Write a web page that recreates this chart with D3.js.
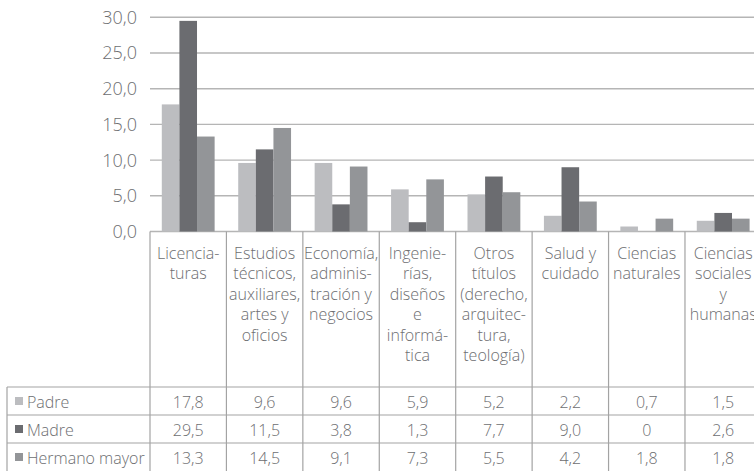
<!DOCTYPE html>
<html>
<head>
<meta charset="utf-8">
<script src="https://cdn.jsdelivr.net/npm/d3@7"></script>
<style>
  html, body { margin: 0; padding: 0; background: #fff; }
  svg { display: block; }
  text { font-family: "Open Sans", Lato, sans-serif; font-weight: 300; fill: #6d6e71; }
</style>
</head>
<body>
<svg id="chart" width="754" height="471"></svg>
<script>
// Categories (each entry holds the wrapped lines of its label)
const categories = [
  ["Licencia-", "turas"],
  ["Estudios", "técnicos,", "auxiliares,", "artes y", "oficios"],
  ["Economía,", "adminis-", "tración y", "negocios"],
  ["Ingenie-", "rías,", "diseños", "e", "informá-", "tica"],
  ["Otros", "títulos", "(derecho,", "arquitec-", "tura,", "teología)"],
  ["Salud y", "cuidado"],
  ["Ciencias", "naturales"],
  ["Ciencias", "sociales", "y", "humanas"]
];
const seriesNames = ["Padre", "Madre", "Hermano mayor"];
const padre   = [17.8, 9.6, 9.6, 5.9, 5.2, 2.2, 0.7, 1.5];
const madre   = [29.5, 11.5, 3.8, 1.3, 7.7, 9.0, 0, 2.6];
const hermano = [13.3, 14.5, 9.1, 7.3, 5.5, 4.2, 1.8, 1.8];
const yTicks = [0, 5, 10, 15, 20, 25, 30];
const colors = ["#bcbdc0", "#6b6c70", "#939598"];

const seriesValues = [padre, madre, hermano];
const fmt = v => v === 0 ? "0" : d3.format(".1f")(v).replace(".", ",");

const svg = d3.select("#chart");
const W = 754;
const plotLeft = 150, plotRight = 761.4;
const yTop = 17.3, yBase = 231.5;
const tableTop = 387, rowH = 28, legendLeft = 7;
const gridColor = "#b5b5b5", lineColor = "#a3a3a3";

const catIdx = categories.map((_, i) => i);
const x = d3.scaleBand().domain(catIdx).range([plotLeft, plotRight]).padding(0);
const xSub = d3.scaleBand().domain(d3.range(seriesNames.length))
  .range([0, x.bandwidth()]).paddingInner(0).paddingOuter(0.67);
const y = d3.scaleLinear().domain([0, 30]).range([yBase, yTop]);

// Horizontal gridlines
svg.append("g").selectAll("line").data(yTicks).join("line")
  .attr("x1", plotLeft).attr("x2", W)
  .attr("y1", d => y(d)).attr("y2", d => y(d))
  .attr("stroke", gridColor).attr("stroke-width", 1.4);

// Y tick labels
svg.append("g").selectAll("text").data(yTicks).join("text")
  .attr("x", 137).attr("y", d => y(d))
  .attr("dy", "0.36em")
  .attr("text-anchor", "end")
  .attr("font-size", 18)
  .text(d => d3.format(".1f")(d).replace(".", ","));

// Bars
const barData = [];
seriesValues.forEach((vals, s) => vals.forEach((v, c) => barData.push({ s, c, v })));
svg.append("g").selectAll("rect").data(barData).join("rect")
  .attr("x", d => x(d.c) + xSub(d.s))
  .attr("width", xSub.bandwidth())
  .attr("y", d => y(d.v))
  .attr("height", d => yBase - y(d.v))
  .attr("fill", d => colors[d.s]);

// Table grid: vertical column separators
const tableBottom = tableTop + rowH * seriesNames.length;
const vx = d3.range(categories.length + 1).map(i => x.range()[0] + i * x.step());
svg.append("g").selectAll("line").data(vx).join("line")
  .attr("x1", d => d).attr("x2", d => d)
  .attr("y1", yBase).attr("y2", tableBottom)
  .attr("stroke", lineColor).attr("stroke-width", 1.2);
svg.append("line")
  .attr("x1", legendLeft).attr("x2", legendLeft)
  .attr("y1", tableTop).attr("y2", tableBottom)
  .attr("stroke", lineColor).attr("stroke-width", 1.2);
// horizontal row lines
svg.append("g").selectAll("line").data(d3.range(seriesNames.length)).join("line")
  .attr("x1", legendLeft).attr("x2", W)
  .attr("y1", d => tableTop + d * rowH).attr("y2", d => tableTop + d * rowH)
  .attr("stroke", lineColor).attr("stroke-width", 1.2);

// Category labels
const catG = svg.append("g").selectAll("text").data(categories).join("text")
  .attr("text-anchor", "middle")
  .attr("font-size", 16);
catG.each(function (lines, i) {
  d3.select(this).selectAll("tspan").data(lines).join("tspan")
    .attr("x", x(i) + x.bandwidth() / 2)
    .attr("y", (d, k) => 259 + k * 20.4)
    .text(d => d);
});

// Legend column of the table
const rows = svg.append("g").selectAll("g").data(seriesNames).join("g")
  .attr("transform", (d, i) => `translate(0, ${tableTop + i * rowH + rowH / 2})`);
rows.append("rect")
  .attr("x", 15).attr("y", -4).attr("width", 8).attr("height", 8)
  .attr("fill", (d, i) => colors[i]);
rows.append("text")
  .attr("x", 27).attr("y", 1).attr("dy", "0.36em")
  .attr("font-size", 16)
  .text(d => d);

// Table values
rows.each(function (name, s) {
  d3.select(this).selectAll("text.val").data(seriesValues[s]).join("text")
    .attr("class", "val")
    .attr("x", (d, c) => x(c) + x.bandwidth() / 2)
    .attr("y", 1).attr("dy", "0.36em")
    .attr("text-anchor", "middle")
    .attr("font-size", 16)
    .text(d => fmt(d));
});
</script>
</body>
</html>
